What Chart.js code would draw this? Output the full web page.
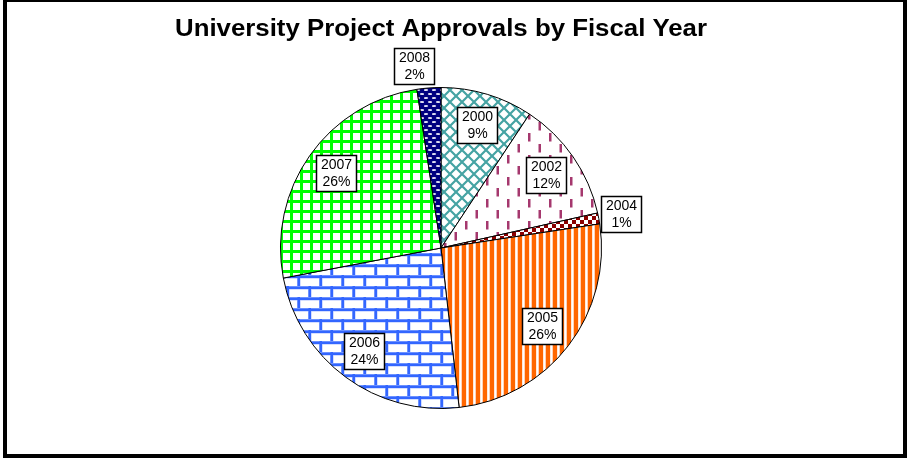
<!DOCTYPE html>
<html>
<head>
<meta charset="utf-8">
<script src="https://cdn.jsdelivr.net/npm/chart.js@4.4.1/dist/chart.umd.min.js"></script>
<style>
  html, body { margin: 0; padding: 0; background: #fff; }
  #wrap { position: relative; width: 907px; height: 458px; overflow: hidden; }
  #c { position: absolute; left: 0; top: 0; }
  #frame { position: absolute; left: 3px; top: -2px; width: 904px; height: 460px; box-sizing: border-box; border: 4px solid #000; pointer-events: none; }
</style>
</head>
<body>
<div id="wrap">
  <canvas id="c" width="907" height="458"></canvas>
  <div id="frame"></div>
</div>
<script>
const titleText = "University Project Approvals by Fiscal Year";
const categories = ["2000", "2002", "2004", "2005", "2006", "2007", "2008"];
const shares = [9.3, 12.2, 1.1, 25.6, 23.8, 25.6, 2.4];

function tile(w, h, draw) {
  const c = document.createElement('canvas');
  c.width = w; c.height = h;
  const g = c.getContext('2d');
  draw(g, w, h);
  return document.getElementById('c').getContext('2d').createPattern(c, 'repeat');
}

const patterns = [
  // 2000 teal diamond trellis
  tile(12, 12, (g, w, h) => {
    g.fillStyle = '#fff'; g.fillRect(0, 0, w, h);
    g.strokeStyle = '#45A3A3'; g.lineWidth = 2.2;
    g.beginPath();
    g.moveTo(-1, -1); g.lineTo(w + 1, h + 1);
    g.moveTo(w + 1, -1); g.lineTo(-1, h + 1);
    g.stroke();
  }),
  // 2002 maroon staggered vertical dashes
  tile(21, 22, (g, w, h) => {
    g.fillStyle = '#fff'; g.fillRect(0, 0, w, h);
    g.fillStyle = '#A5386E';
    g.fillRect(3, 1, 2.5, 8.5);
    g.fillRect(13.5, 12, 2.5, 8.5);
  }),
  // 2004 dark red checks
  tile(8, 8, (g, w, h) => {
    g.fillStyle = '#fff'; g.fillRect(0, 0, w, h);
    g.fillStyle = '#8B0000';
    g.fillRect(0, 0, 4, 4);
    g.fillRect(4, 4, 4, 4);
  }),
  // 2005 orange vertical stripes
  tile(7, 2, (g, w, h) => {
    g.fillStyle = '#fff'; g.fillRect(0, 0, w, h);
    g.fillStyle = '#FFD2B8'; g.fillRect(3.5, 0, 1, h); g.fillRect(6, 0, 1, h);
    g.fillStyle = '#FF6600'; g.fillRect(0, 0, 4, h);
  }),
  // 2006 blue bricks
  tile(22, 22, (g, w, h) => {
    g.fillStyle = '#fff'; g.fillRect(0, 0, w, h);
    g.fillStyle = '#A9BEFF';
    g.fillRect(0, 0, w, 3.5); g.fillRect(0, 11, w, 3.5);
    g.fillRect(0, 0, 3.5, 11); g.fillRect(11, 11, 3.5, 11);
    g.fillStyle = '#3366FF';
    g.fillRect(0, 0.5, w, 2.5); g.fillRect(0, 11.5, w, 2.5);
    g.fillRect(0.5, 0, 2.5, 11); g.fillRect(11.5, 11, 2.5, 11);
  }),
  // 2007 green grid
  tile(10, 10, (g, w, h) => {
    g.fillStyle = '#fff'; g.fillRect(0, 0, w, h);
    g.fillStyle = '#00FF00';
    g.fillRect(0, 0, w, 3);
    g.fillRect(0, 0, 3, h);
  }),
  // 2008 navy with white dashes
  tile(8, 8, (g, w, h) => {
    g.fillStyle = '#000080'; g.fillRect(0, 0, w, h);
    g.fillStyle = '#E6E6F5';
    g.beginPath(); g.ellipse(2, 2, 2.2, 1.1, 0, 0, Math.PI * 2); g.fill();
    g.beginPath(); g.ellipse(6, 6, 2.2, 1.1, 0, 0, Math.PI * 2); g.fill();
  })
];

const titlePlugin = {
  id: 'fixedTitle',
  afterDraw(chart) {
    const ctx = chart.ctx;
    ctx.save();
    ctx.fillStyle = '#000';
    ctx.font = 'bold 23px "Liberation Sans", Arial, sans-serif';
    ctx.textAlign = 'center';
    ctx.textBaseline = 'middle';
    const w = ctx.measureText(titleText).width;
    const sx = 532 / w;
    ctx.translate(441, 30);
    ctx.scale(sx, 1);
    ctx.fillText(titleText, 0, 0);
    ctx.restore();
  }
};

const labelPlugin = {
  id: 'boxLabels',
  afterDatasetsDraw(chart) {
    const ctx = chart.ctx;
    const meta = chart.getDatasetMeta(0);
    const data = chart.data.datasets[0].data;
    const total = data.reduce((a, b) => a + b, 0);
    ctx.save();
    ctx.font = '14px "Liberation Sans", Arial, sans-serif';
    ctx.textAlign = 'center';
    ctx.textBaseline = 'middle';
    meta.data.forEach((arc, i) => {
      const p = arc.getProps(['x', 'y', 'startAngle', 'endAngle', 'outerRadius'], true);
      const mid = (p.startAngle + p.endAngle) / 2;
      const pct = data[i] / total * 100;
      const outside = pct < 3;
      const dist = outside ? p.outerRadius + 23 : p.outerRadius * 0.8;
      // outside labels lean slightly away from the top so the box clears the rim
      const ang = outside && Math.cos(mid) < 0.3 && Math.sin(mid) < 0 ? mid - 0.07 : mid;
      const cx = p.x + Math.cos(ang) * dist;
      const cy = p.y + Math.sin(ang) * dist;
      const l1 = chart.data.labels[i];
      const l2 = Math.round(pct) + '%';
      const bw = 41, bh = 37;
      const bx = Math.round(cx - bw / 2), by = Math.round(cy - bh / 2);
      ctx.fillStyle = '#fff';
      ctx.fillRect(bx, by, bw, bh);
      ctx.strokeStyle = '#000';
      ctx.lineWidth = 1.5;
      ctx.strokeRect(bx + 0.5, by + 0.5, bw - 1, bh - 1);
      ctx.fillStyle = '#000';
      ctx.fillText(l1, bx + bw / 2, by + bh / 2 - 8);
      ctx.fillText(l2, bx + bw / 2, by + bh / 2 + 9);
    });
    ctx.restore();
  }
};

new Chart(document.getElementById('c'), {
  type: 'pie',
  data: {
    labels: categories,
    datasets: [{
      data: shares,
      backgroundColor: patterns,
      borderColor: '#000',
      borderWidth: 1,
      borderAlign: 'center'
    }]
  },
  options: {
    responsive: false,
    animation: false,
    layout: { padding: { left: 280, right: 305, top: 87, bottom: 49 } },
    plugins: {
      legend: { display: false },
      tooltip: { enabled: false },
      title: { display: false }
    }
  },
  plugins: [titlePlugin, labelPlugin]
});
</script>
</body>
</html>
